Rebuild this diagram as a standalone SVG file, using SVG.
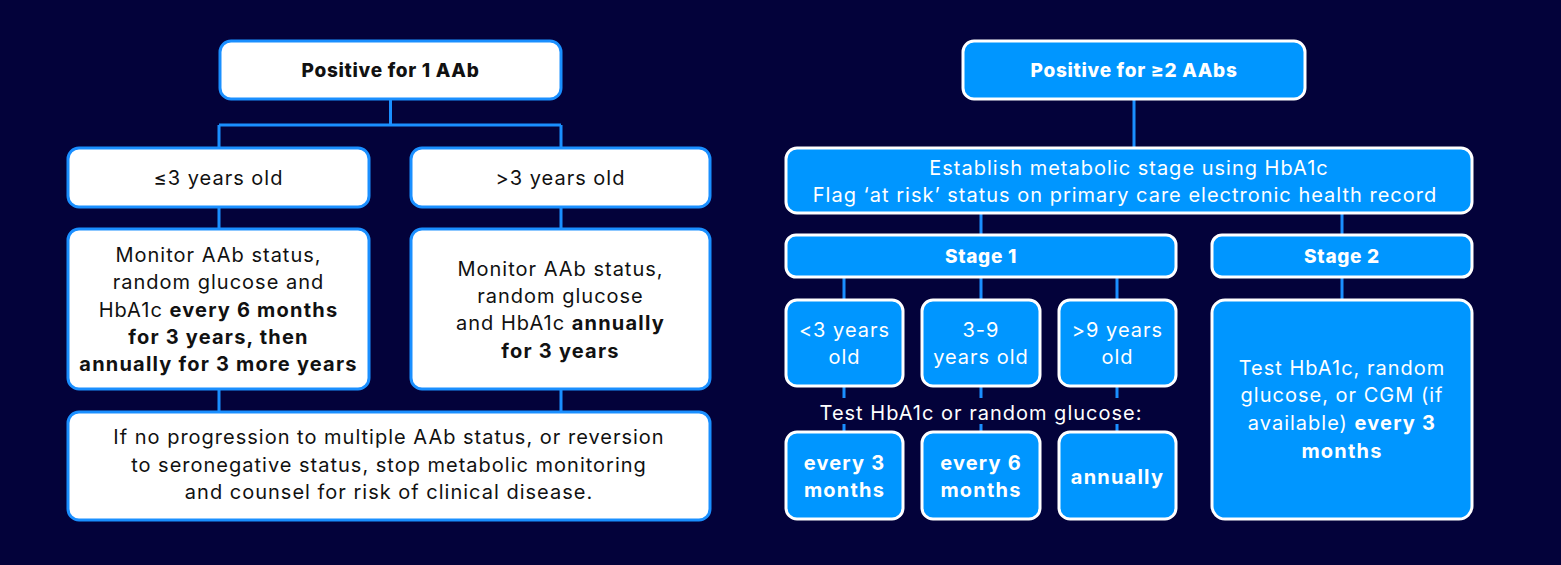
<svg xmlns="http://www.w3.org/2000/svg" width="1561" height="565" viewBox="0 0 1561 565">
<style>
.wb{fill:#ffffff;stroke:#1a8fff;stroke-width:3}
.bb{fill:#0096ff;stroke:#ffffff;stroke-width:3}
.ln{stroke:#1a8fff;stroke-width:3;fill:none}
text{font-family:"Inter","Noto Sans",sans-serif;font-size:20px;letter-spacing:1px;text-anchor:middle}
.dk{fill:#111111}
.wt{fill:#ffffff}
.b{font-weight:700;letter-spacing:1.2px}
.t{font-size:19px;font-weight:800;letter-spacing:0.7px}
</style>
<rect width="1561" height="565" fill="#03023a"/>
<g id="connectors">
<path class="ln" d="M390.5 100V125M219 125H561M219 125V148M561 125V148M219 207V229M561 207V229M219 389V412M561 389V412"/>
<path class="ln" d="M1134 100V148M981 213V235M1342 213V235M844 277V300M981 277V300M1117 277V300M1342 277V300M844 386V398M981 386V398M1117 386V398M844 424V432M981 424V432M1117 424V432"/>
</g>
<g id="n1"><rect class="wb" x="220" y="41" width="341" height="58" rx="11"/><text class="dk b t" x="390.5" y="77">Positive for 1 AAb</text></g>
<g id="n2"><rect class="wb" x="68" y="148" width="301" height="59" rx="11"/><text class="dk" x="218.5" y="185">≤3 years old</text></g>
<g id="n3"><rect class="wb" x="411" y="148" width="299" height="59" rx="11"/><text class="dk" x="560.5" y="185">&gt;3 years old</text></g>
<g id="n4"><rect class="wb" x="68" y="229" width="301" height="160" rx="11"/>
<text class="dk" x="218.5" y="262">Monitor AAb status,</text>
<text class="dk" x="218.5" y="289">random glucose and</text>
<text class="dk" x="218.5" y="317">HbA1c <tspan class="b">every 6 months</tspan></text>
<text class="dk b" x="218.5" y="344">for 3 years, then</text>
<text class="dk b" x="218.5" y="371">annually for 3 more years</text></g>
<g id="n5"><rect class="wb" x="411" y="229" width="299" height="160" rx="11"/>
<text class="dk" x="560.5" y="276">Monitor AAb status,</text>
<text class="dk" x="560.5" y="303">random glucose</text>
<text class="dk" x="560.5" y="330">and HbA1c <tspan class="b">annually</tspan></text>
<text class="dk b" x="560.5" y="358">for 3 years</text></g>
<g id="n6"><rect class="wb" x="68" y="412" width="642" height="108" rx="11"/>
<text class="dk" x="389" y="444">If no progression to multiple AAb status, or reversion</text>
<text class="dk" x="389" y="472">to seronegative status, stop metabolic monitoring</text>
<text class="dk" x="389" y="499">and counsel for risk of clinical disease.</text></g>
<g id="r1"><rect class="bb" x="963" y="41" width="342" height="58" rx="11"/><text class="wt b t" x="1134" y="77">Positive for ≥2 AAbs</text></g>
<g id="r2"><rect class="bb" x="786" y="148" width="686" height="65" rx="11"/>
<text class="wt" x="1129" y="175">Establish metabolic stage using HbA1c</text>
<text class="wt" x="1125" y="202">Flag ‘at risk’ status on primary care electronic health record</text></g>
<g id="r3"><rect class="bb" x="786" y="235" width="390" height="42" rx="10"/><text class="wt b t" x="981" y="263">Stage 1</text></g>
<g id="r4"><rect class="bb" x="1212" y="235" width="260" height="42" rx="10"/><text class="wt b t" x="1342" y="263">Stage 2</text></g>
<g id="r5"><rect class="bb" x="786" y="300" width="117" height="86" rx="11"/><text class="wt" x="844.5" y="337">&lt;3 years</text><text class="wt" x="844.5" y="364">old</text></g>
<g id="r6"><rect class="bb" x="922" y="300" width="118" height="86" rx="11"/><text class="wt" x="981" y="337">3-9</text><text class="wt" x="981" y="364">years old</text></g>
<g id="r7"><rect class="bb" x="1059" y="300" width="117" height="86" rx="11"/><text class="wt" x="1117.5" y="337">&gt;9 years</text><text class="wt" x="1117.5" y="364">old</text></g>
<text class="wt" x="981" y="420">Test HbA1c or random glucose:</text>
<g id="r8"><rect class="bb" x="786" y="432" width="117" height="87" rx="11"/><text class="wt b" x="844.5" y="470">every 3</text><text class="wt b" x="844.5" y="497">months</text></g>
<g id="r9"><rect class="bb" x="922" y="432" width="118" height="87" rx="11"/><text class="wt b" x="981" y="470">every 6</text><text class="wt b" x="981" y="497">months</text></g>
<g id="r10"><rect class="bb" x="1059" y="432" width="117" height="87" rx="11"/><text class="wt b" x="1117.5" y="484">annually</text></g>
<g id="r11"><rect class="bb" x="1212" y="300" width="260" height="219" rx="13"/>
<text class="wt" x="1342" y="375">Test HbA1c, random</text>
<text class="wt" x="1342" y="402">glucose, or CGM (if</text>
<text class="wt" x="1342" y="430">available) <tspan class="b">every 3</tspan></text>
<text class="wt b" x="1342" y="458">months</text></g>
</svg>
